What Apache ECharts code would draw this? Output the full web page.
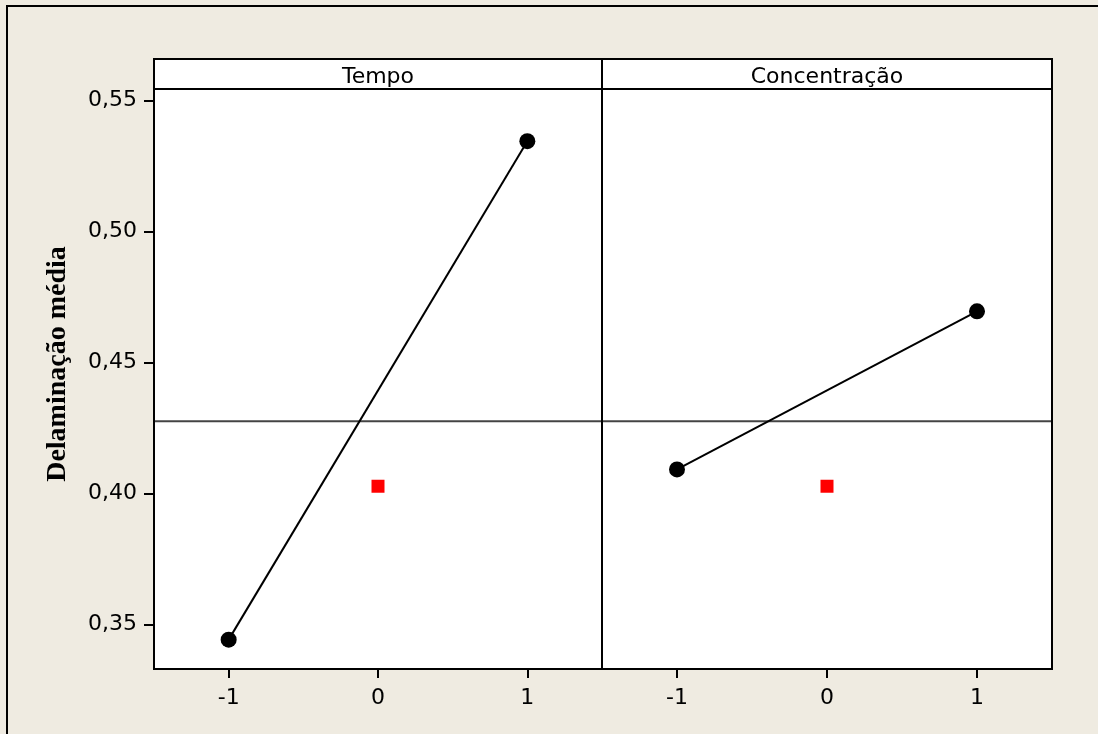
<!DOCTYPE html>
<html>
<head>
<meta charset="utf-8">
<script src="https://cdn.jsdelivr.net/npm/echarts@6/dist/echarts.min.js"></script>
<style>
  html, body { margin: 0; padding: 0; background: #EFEBE1; }
  #chart { width: 1098px; height: 734px; }
</style>
</head>
<body>
<div id="chart"></div>
<script>
// Main effects plot for mean delamination
const panelTitles = ['Tempo', 'Concentração'];
const factorLevels = [-1, 1];
const tempoMeans = [0.3443, 0.5344];
const concentracaoMeans = [0.4092, 0.4695];
const centerPointMean = 0.4028;
const grandMean = 0.4276;
const yTicks = [0.35, 0.40, 0.45, 0.50, 0.55];
const xTicks = [-1, 0, 1];
const yTitle = 'Delaminação média';

const FONT = '"DejaVu Sans", sans-serif';
const LABEL_SIZE = 22;
const frame = { left: 154, top: 59, right: 1052, bottom: 669, header: 89, divider: 602 };

const chart = echarts.init(document.getElementById('chart'), null, { renderer: 'canvas' });

const fmtY = v => v.toFixed(2).replace('.', ',');

function xAxisFor(gridIndex) {
  return {
    type: 'value', gridIndex, min: -1.5, max: 1.5,
    axisLine: { show: true, onZero: false, lineStyle: { color: '#000', width: 2 } },
    axisTick: { show: true, length: 9, customValues: xTicks, lineStyle: { color: '#000', width: 2 } },
    axisLabel: { show: true, customValues: xTicks, margin: 18, color: '#000', fontSize: LABEL_SIZE, fontFamily: FONT,
                 formatter: v => String(Math.round(v)) },
    splitLine: { show: false }
  };
}
function yAxisFor(gridIndex, showLabels) {
  return {
    type: 'value', gridIndex, min: 0.3331, max: 0.5543,
    axisLine: { show: showLabels, onZero: false, lineStyle: { color: '#000', width: 2 } },
    axisTick: { show: showLabels, length: 10, customValues: yTicks, lineStyle: { color: '#000', width: 2 } },
    axisLabel: { show: showLabels, customValues: yTicks, margin: 17, color: '#000', fontSize: LABEL_SIZE, fontFamily: FONT,
                 formatter: fmtY },
    splitLine: { show: false }
  };
}

function effectSeries(idx, means) {
  return [
    {
      // grand mean reference line across the panel
      type: 'line', xAxisIndex: idx, yAxisIndex: idx,
      data: [[-1.5, grandMean], [1.5, grandMean]],
      symbol: 'none', silent: true,
      lineStyle: { color: '#444', width: 2 },
      z: 3
    },
    {
      type: 'line', xAxisIndex: idx, yAxisIndex: idx,
      data: factorLevels.map((x, i) => [x, means[i]]),
      symbol: 'circle', symbolSize: 16,
      itemStyle: { color: '#000', opacity: 1 },
      lineStyle: { color: '#000', width: 2 },
      z: 5
    },
    {
      type: 'scatter', xAxisIndex: idx, yAxisIndex: idx,
      data: [[0, centerPointMean]],
      symbol: 'rect', symbolSize: 13,
      itemStyle: { color: '#FF0000', opacity: 1 },
      z: 4
    }
  ];
}

const gridW1 = frame.divider - frame.left;
const gridW2 = frame.right - frame.divider;

const option = {
  backgroundColor: '#EFEBE1',
  animation: false,
  grid: [
    { left: frame.left, top: frame.header, width: gridW1, height: frame.bottom - frame.header,
      show: true, backgroundColor: '#fff', borderWidth: 0 },
    { left: frame.divider, top: frame.header, width: gridW2, height: frame.bottom - frame.header,
      show: true, backgroundColor: '#fff', borderWidth: 0 }
  ],
  xAxis: [xAxisFor(0), xAxisFor(1)],
  yAxis: [yAxisFor(0, true), yAxisFor(1, false)],
  series: [...effectSeries(0, tempoMeans), ...effectSeries(1, concentracaoMeans)],
  graphic: [
    // outer page border
    { type: 'rect', shape: { x: 7, y: 6, width: 1200, height: 1000 },
      style: { fill: null, stroke: '#000', lineWidth: 2 }, z: 1, silent: true },
    // header strip
    { type: 'rect', shape: { x: frame.left, y: frame.top, width: frame.right - frame.left, height: frame.header - frame.top },
      style: { fill: '#fff', stroke: null }, z: 1, silent: true },
    // plot frame and panel lines
    { type: 'rect', shape: { x: frame.left, y: frame.top, width: frame.right - frame.left, height: frame.bottom - frame.top },
      style: { fill: null, stroke: '#000', lineWidth: 2 }, z: 10, silent: true },
    { type: 'line', shape: { x1: frame.left, y1: frame.header, x2: frame.right, y2: frame.header },
      style: { stroke: '#000', lineWidth: 2 }, z: 10, silent: true },
    { type: 'line', shape: { x1: frame.divider, y1: frame.top, x2: frame.divider, y2: frame.bottom },
      style: { stroke: '#000', lineWidth: 2 }, z: 10, silent: true },
    // panel titles
    { type: 'text', x: (frame.left + frame.divider) / 2, y: 77, z: 11, silent: true,
      style: { text: panelTitles[0], fill: '#000', font: LABEL_SIZE + 'px ' + FONT, textAlign: 'center', textVerticalAlign: 'middle' } },
    { type: 'text', x: (frame.divider + frame.right) / 2, y: 77, z: 11, silent: true,
      style: { text: panelTitles[1], fill: '#000', font: LABEL_SIZE + 'px ' + FONT, textAlign: 'center', textVerticalAlign: 'middle' } },
    // y axis title
    { type: 'text', x: 58, y: 364, rotation: Math.PI / 2, z: 11, silent: true,
      style: { text: yTitle, fill: '#000', font: 'bold 28px "Liberation Serif", serif', textAlign: 'center', textVerticalAlign: 'middle' } }
  ]
};

chart.setOption(option);
</script>
</body>
</html>
